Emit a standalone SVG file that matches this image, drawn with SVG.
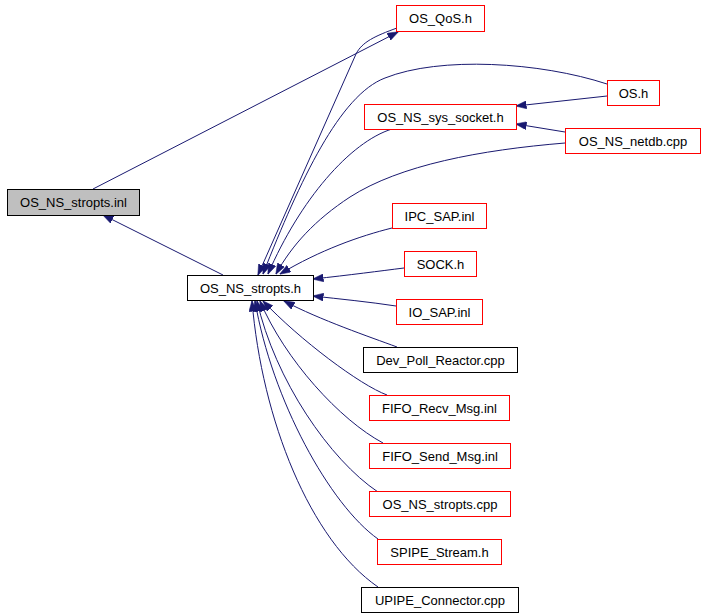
<svg xmlns="http://www.w3.org/2000/svg" width="704" height="616" viewBox="0 0 704 616">
<style>
.n rect{fill:#ffffff;stroke:#ff0000;stroke-width:1}
.n.b rect{stroke:#000000}
.n.root rect{fill:#bfbfbf;stroke:#000000}
.n text{font-family:"Liberation Sans",Arial,Helvetica,sans-serif;font-size:13px;fill:#000000;text-anchor:middle}
#edges path{fill:none;stroke:#191970;stroke-width:1;marker-end:url(#ah)}
</style>
<defs>
<marker id="ah" markerUnits="userSpaceOnUse" markerWidth="11" markerHeight="8" viewBox="0 0 11 8" refX="10.5" refY="4" orient="auto">
<path d="M0,0 L11,4 L0,8 z" fill="#191970" stroke="#191970" stroke-width="0.5"/>
</marker>
</defs>
<rect width="704" height="616" fill="#ffffff"/>
<g id="edges">
<path d="M223,275 L103,215"/>
<path d="M93,189 L398,32"/>
<path d="M397,28 C375,36 362,42 356,54 L258,275"/>
<path d="M607,84 C540,62 440,56 385,78 C340,95 300,180 263,274"/>
<path d="M392,129 C350,142 300,200 268,274"/>
<path d="M565,143 C480,150 400,165 350,197 C315,220 292,245 276,274"/>
<path d="M392,228 C360,236 320,250 280,274"/>
<path d="M404,268 C380,271 350,275 313,279"/>
<path d="M396,306 C370,302 340,299 313,296"/>
<path d="M397,347 C370,337 320,320 284,301"/>
<path d="M387,395 C360,385 300,340 263,301"/>
<path d="M383,443 C340,420 285,360 260,301"/>
<path d="M378,492 C330,460 275,380 257,301"/>
<path d="M378,539 C330,505 272,400 255,301"/>
<path d="M378,587 C310,540 262,420 252,301"/>
<path d="M607,96 L516,106"/>
<path d="M565,132 L516,124"/>
</g>
<g id="n_inl" class="n root"><rect x="7.5" y="189.5" width="132" height="26"/><text x="73.5" y="207">OS_NS_stropts.inl</text></g>
<g id="n_stropts_h" class="n b"><rect x="187.5" y="275.5" width="126" height="25"/><text x="250.5" y="292.5">OS_NS_stropts.h</text></g>
<g id="n_qos" class="n"><rect x="396.5" y="5.5" width="88" height="26"/><text x="440.5" y="23">OS_QoS.h</text></g>
<g id="n_os_h" class="n"><rect x="607.5" y="80.5" width="52" height="25"/><text x="633.5" y="97.5">OS.h</text></g>
<g id="n_sys_socket" class="n"><rect x="364.5" y="104.5" width="152" height="25"/><text x="440.5" y="121.5">OS_NS_sys_socket.h</text></g>
<g id="n_netdb" class="n"><rect x="565.5" y="128.5" width="135" height="25"/><text x="633" y="145.5">OS_NS_netdb.cpp</text></g>
<g id="n_ipc_sap" class="n"><rect x="392.5" y="203.5" width="94" height="25"/><text x="439.5" y="220.5">IPC_SAP.inl</text></g>
<g id="n_sock" class="n"><rect x="404.5" y="251.5" width="72" height="25"/><text x="440.5" y="268.5">SOCK.h</text></g>
<g id="n_io_sap" class="n"><rect x="396.5" y="299.5" width="86" height="25"/><text x="439.5" y="316.5">IO_SAP.inl</text></g>
<g id="n_dev_poll" class="n b"><rect x="363.5" y="347.5" width="154" height="25"/><text x="440.5" y="364.5">Dev_Poll_Reactor.cpp</text></g>
<g id="n_fifo_recv" class="n"><rect x="369.5" y="395.5" width="140" height="25"/><text x="439.5" y="412.5">FIFO_Recv_Msg.inl</text></g>
<g id="n_fifo_send" class="n"><rect x="369.5" y="443.5" width="141" height="25"/><text x="440" y="460.5">FIFO_Send_Msg.inl</text></g>
<g id="n_stropts_cpp" class="n"><rect x="369.5" y="491.5" width="141" height="25"/><text x="440" y="508.5">OS_NS_stropts.cpp</text></g>
<g id="n_spipe" class="n"><rect x="377.5" y="539.5" width="124" height="25"/><text x="439.5" y="556.5">SPIPE_Stream.h</text></g>
<g id="n_upipe" class="n b"><rect x="361.5" y="587.5" width="157" height="25"/><text x="440" y="604.5">UPIPE_Connector.cpp</text></g>
</svg>
